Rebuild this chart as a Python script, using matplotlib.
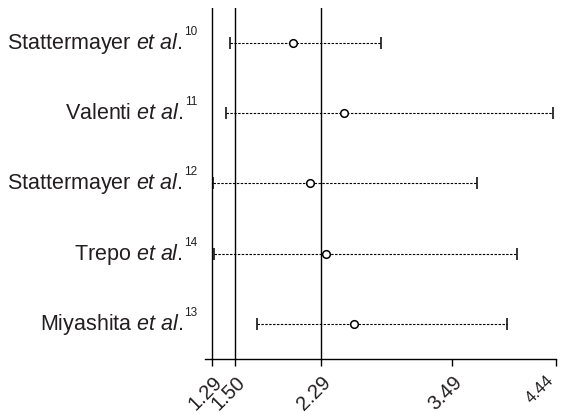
import matplotlib
matplotlib.use('Agg')
import matplotlib.pyplot as plt
from matplotlib.transforms import offset_copy

plt.rcParams['font.family'] = ['Liberation Sans', 'DejaVu Sans']
plt.rcParams['mathtext.fontset'] = 'custom'
plt.rcParams['mathtext.rm'] = 'Liberation Sans'
plt.rcParams['mathtext.it'] = 'Liberation Sans:italic'

# studies, top to bottom
authors = ['Stattermayer', 'Valenti', 'Stattermayer', 'Trepo', 'Miyashita']
refs = ['10', '11', '12', '14', '13']
# odds ratio and 95% CI
or_mid = [2.03, 2.50, 2.19, 2.33, 2.59]
ci_low = [1.45, 1.42, 1.30, 1.31, 1.70]
ci_high = [2.84, 4.41, 3.72, 4.08, 3.99]
ticks = [1.29, 1.50, 2.29, 3.49, 4.44]
ref_lines = [1.29, 1.50, 2.29]

txt_col = '#231f20'

fig = plt.figure(figsize=(5.65, 4.16), dpi=100)
ax = fig.add_axes([0.363, 0.137, 0.621, 0.844])

ypos = list(range(len(authors)))
err_lo = [m - l for m, l in zip(or_mid, ci_low)]
err_hi = [h - m for m, h in zip(or_mid, ci_high)]

for x in ref_lines:
    ax.axvline(x, color='black', lw=1.0, zorder=1)

eb = ax.errorbar(or_mid, ypos, xerr=[err_lo, err_hi], fmt='o', mfc='white', mec='black',
                 ms=5.5, mew=1.1, ecolor='black', elinewidth=0.8, capsize=4.3, capthick=1.0,
                 zorder=3)
eb[2][0].set_linestyle((0, (2.2, 1.3)))

ax.set_xlim(1.226, 4.44)
ax.set_ylim(4.5, -0.5)
ax.set_xticks(ticks)
tick_txt = ['%.2f' % t for t in ticks]
# the last label sits against the right edge: drawn separately, smaller and nudged left
ax.set_xticklabels(tick_txt[:-1] + [''], fontsize=14.5, color=txt_col)
plt.setp(ax.get_xticklabels(), rotation=45, ha='right', va='top', rotation_mode='anchor')
last_tr = offset_copy(ax.get_xaxis_transform(), fig=fig, x=-10, y=-14, units='dots')
ax.text(ticks[-1], 0, tick_txt[-1], transform=last_tr, rotation=45, ha='right', va='top',
        rotation_mode='anchor', fontsize=12, color=txt_col, clip_on=False)

# study labels: name + italic "et al." + small raised reference number
ax.set_yticks([])
ytr = ax.get_yaxis_transform()
name_tr = offset_copy(ytr, fig=fig, x=-22, y=-6, units='dots')
sup_tr = offset_copy(ytr, fig=fig, x=-8, y=8, units='dots')
for y, a, r in zip(ypos, authors, refs):
    ax.text(0, y, r'%s $\mathit{et\ al}$.' % a, transform=name_tr, ha='right',
            va='baseline', fontsize=15.5, color=txt_col)
    ax.text(0, y, r, transform=sup_tr, ha='right', va='baseline', fontsize=8.5, color=txt_col)

ax.tick_params(axis='x', length=5, width=1.0, direction='out', pad=5)
for s in ['top', 'right', 'left']:
    ax.spines[s].set_visible(False)
ax.spines['bottom'].set_linewidth(1.0)

fig.savefig('out.png', dpi=100)
